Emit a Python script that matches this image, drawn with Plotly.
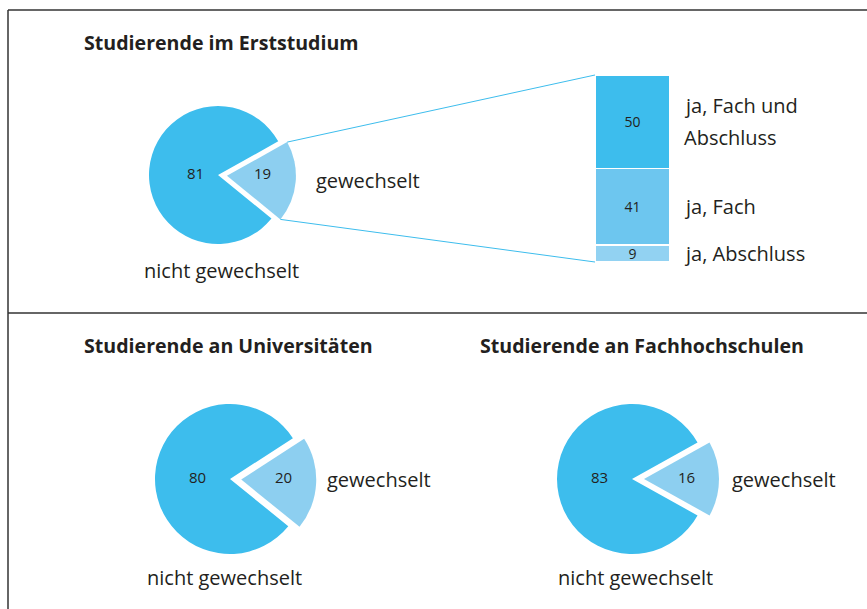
import math
import plotly.graph_objects as go

W, H = 867, 609

# ---- data -------------------------------------------------------------
change_labels = ["gewechselt", "nicht gewechselt"]
erst_values = [19, 81]          # Studierende im Erststudium
uni_values = [20, 80]           # Studierende an Universitäten
fh_values = [16, 83]            # Studierende an Fachhochschulen

panel_titles = [
    "Studierende im Erststudium",
    "Studierende an Universitäten",
    "Studierende an Fachhochschulen",
]

kind_labels = ["ja, Abschluss", "ja, Fach", "ja, Fach und Abschluss"]
kind_values = [9, 41, 50]

# ---- style ------------------------------------------------------------
C_MAIN = "#3DBDED"
C_LIGHT = "#8DCFF0"
BAR_COLORS = ["#92D2F2", "#6DC6EF", "#3DBDED"]
TEXT = "#231F20"
FONT = "Open Sans"
LABEL_SIZE = 20
TITLE_SIZE = 19.6
NUM_SIZE = 15
FRAME = "#333333"


def to_paper(x, y):
    """pixel position (origin top-left) -> paper coordinates"""
    return x / W, 1 - y / H


# pie layout: centre (px), radius (px), pull, tilt of the pulled slice (deg),
# radial position of the value labels (fraction of radius)
pies = [
    dict(values=erst_values, cx=218, cy=175, r=69, pull=0.13, tilt=5,
         label_frac=(0.51, 0.32),
         name_pos=(142, 270), change_pos=(314, 180)),
    dict(values=uni_values, cx=230, cy=479, r=75, pull=0.15, tilt=3,
         label_frac=(0.56, 0.43),
         name_pos=(145, 577), change_pos=(325, 479)),
    dict(values=fh_values, cx=632, cy=479, r=75, pull=0.16, tilt=0,
         label_frac=(0.57, 0.43),
         name_pos=(556, 577), change_pos=(730, 479)),
]

# stacked bar box (px)
BAR_X0, BAR_X1, BAR_Y0, BAR_Y1 = 595, 670, 75, 262

fig = go.Figure()
annotations = []
shapes = []

for p in pies:
    vals = p["values"]
    total = sum(vals)
    half = p["r"] * (1 + p["pull"])
    rotation = 90 + p["tilt"] - 360 * vals[0] / total / 2
    p["rotation"] = rotation
    fig.add_trace(go.Pie(
        labels=change_labels,
        values=vals,
        sort=False,
        direction="clockwise",
        rotation=rotation,
        pull=[p["pull"], 0],
        marker=dict(colors=[C_LIGHT, C_MAIN], line=dict(width=0)),
        textinfo="none",
        hoverinfo="label+value",
        showlegend=False,
        domain=dict(
            x=[(p["cx"] - half) / W, (p["cx"] + half) / W],
            y=[1 - (p["cy"] + half) / H, 1 - (p["cy"] - half) / H],
        ),
    ))

    # value labels on the horizontal axis through each slice
    start = rotation - p["tilt"]
    for i, v in enumerate(vals):
        span = 360 * v / total
        mid = math.radians(start + span / 2)
        pull_i = p["pull"] if i == 0 else 0
        d = (pull_i + p["label_frac"][i]) * p["r"]
        x = p["cx"] + d * math.sin(mid)
        y = p["cy"] - d * math.cos(mid) - 2
        px_, py_ = to_paper(x, y)
        annotations.append(dict(
            x=px_, y=py_, xref="paper", yref="paper", text=str(v),
            showarrow=False, xanchor="center", yanchor="middle",
            font=dict(family=FONT, size=NUM_SIZE, color=TEXT)))
        start += span

    # category labels
    for text, pos in ((change_labels[1], p["name_pos"]), (change_labels[0], p["change_pos"])):
        px_, py_ = to_paper(*pos)
        annotations.append(dict(
            x=px_, y=py_, xref="paper", yref="paper", text=text,
            showarrow=False, xanchor="left", yanchor="middle",
            font=dict(family=FONT, size=LABEL_SIZE, color=TEXT)))

# connector lines from the pulled slice of the first pie to the bar
p = pies[0]
span0 = 360 * p["values"][0] / sum(p["values"])
mid0 = math.radians(p["rotation"] + span0 / 2)
ax = p["cx"] + p["pull"] * p["r"] * math.sin(mid0)
ay = p["cy"] - p["pull"] * p["r"] * math.cos(mid0)
for ang, target_y in ((p["rotation"], BAR_Y0), (p["rotation"] + span0, BAR_Y1)):
    a = math.radians(ang)
    x0 = ax + p["r"] * math.sin(a)
    y0 = ay - p["r"] * math.cos(a)
    sx0, sy0 = to_paper(x0, y0)
    sx1, sy1 = to_paper(BAR_X0, target_y)
    shapes.append(dict(type="line", xref="paper", yref="paper",
                       x0=sx0, y0=sy0, x1=sx1, y1=sy1,
                       line=dict(color=C_MAIN, width=1)))

# stacked bar for the kind of change
for lab, val, col in zip(kind_labels, kind_values, BAR_COLORS):
    fig.add_trace(go.Bar(
        x=[0], y=[val], name=lab, width=1,
        marker=dict(color=col, line=dict(color="white", width=1.5)),
        text=[str(val)], textposition="inside", insidetextanchor="middle",
        textangle=0, constraintext="none",
        textfont=dict(family=FONT, size=NUM_SIZE - 1, color=TEXT),
        showlegend=False, hoverinfo="name+y",
        xaxis="x", yaxis="y",
    ))

# labels right of the bar, centred on each segment
base = 0
for lab, val in zip(kind_labels, kind_values):
    mid = base + val / 2
    base += val
    lines = lab.replace(" und ", " und\n").split("\n")
    gap = 32
    for k, line in enumerate(lines):
        shift = ((len(lines) - 1) / 2 - k) * gap
        annotations.append(dict(
            x=0.5, y=mid, xref="x", yref="y", text=line,
            showarrow=False, xanchor="left", yanchor="middle",
            xshift=12, yshift=shift,
            font=dict(family=FONT, size=LABEL_SIZE, color=TEXT)))

# panel titles
for title, pos in zip(panel_titles, [(82, 42), (82, 345), (478, 345)]):
    px_, py_ = to_paper(*pos)
    annotations.append(dict(
        x=px_, y=py_, xref="paper", yref="paper",
        text="<b>" + title + "</b>", showarrow=False,
        xanchor="left", yanchor="middle",
        font=dict(family=FONT, size=TITLE_SIZE, color=TEXT)))

# frame lines
for (x0, y0, x1, y1) in [(8, 10, 867, 10), (8, 10, 8, 609), (8, 313, 867, 313)]:
    a0 = to_paper(x0, y0)
    a1 = to_paper(x1, y1)
    shapes.append(dict(type="line", xref="paper", yref="paper",
                       x0=a0[0], y0=a0[1], x1=a1[0], y1=a1[1],
                       line=dict(color=FRAME, width=1.5)))

fig.update_layout(
    width=W, height=H,
    margin=dict(l=0, r=0, t=0, b=0),
    paper_bgcolor="white", plot_bgcolor="white",
    barmode="stack",
    xaxis=dict(domain=[BAR_X0 / W, BAR_X1 / W], range=[-0.5, 0.5],
               visible=False, fixedrange=True),
    yaxis=dict(domain=[1 - BAR_Y1 / H, 1 - BAR_Y0 / H], range=[0, 100],
               visible=False, fixedrange=True),
    annotations=annotations,
    shapes=shapes,
    font=dict(family=FONT, color=TEXT),
)

fig.write_html("out.html")
